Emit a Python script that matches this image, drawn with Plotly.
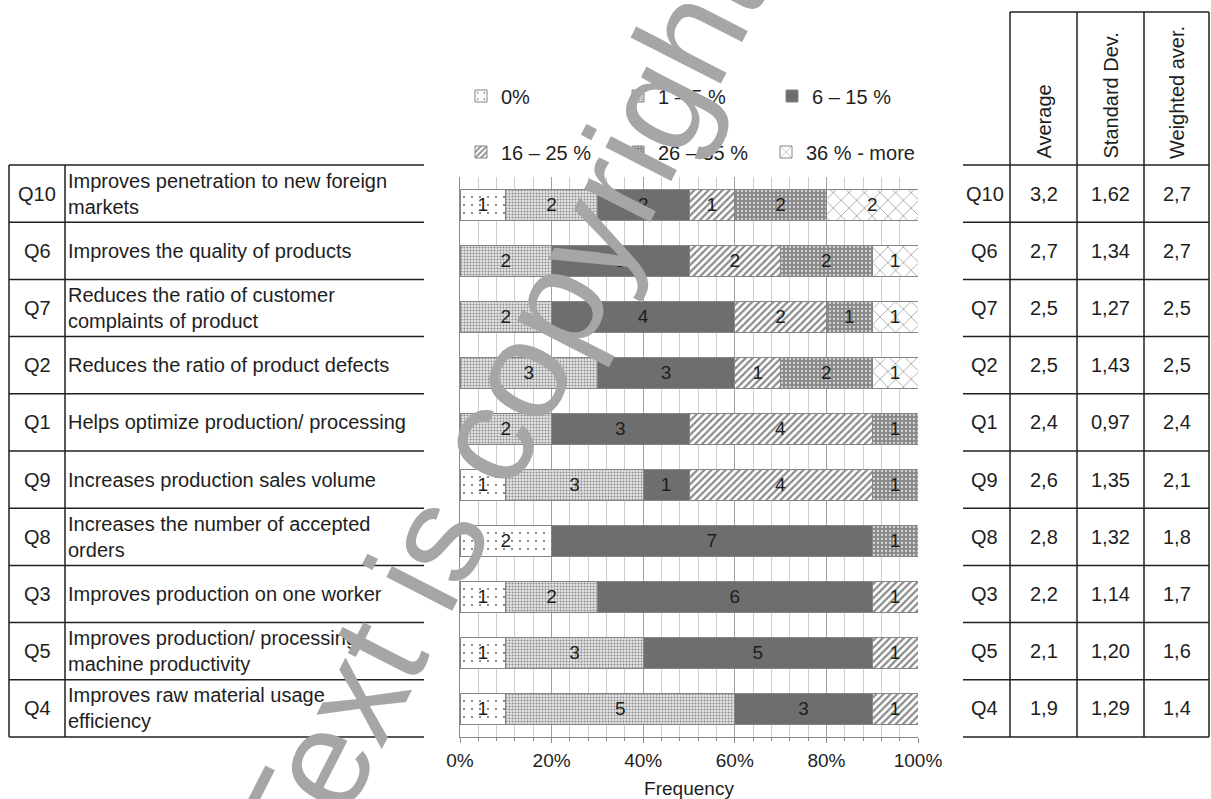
import plotly.graph_objects as go

W, H = 1211, 799

# ---- data -------------------------------------------------------------
questions = ["Q10", "Q6", "Q7", "Q2", "Q1", "Q9", "Q8", "Q3", "Q5", "Q4"]
descriptions = [
    "Improves penetration to new foreign<br>markets",
    "Improves the quality of products",
    "Reduces the ratio of customer<br>complaints of product",
    "Reduces the ratio of product defects",
    "Helps optimize production/ processing",
    "Increases production sales volume",
    "Increases the number of accepted<br>orders",
    "Improves production on one worker",
    "Improves production/ processing<br>machine productivity",
    "Improves raw material usage<br>efficiency",
]
categories = ["0%", "1 – 5 %", "6 – 15 %", "16 – 25 %", "26 – 35 %", "36 % - more"]
counts_0 = [1, 0, 0, 0, 0, 1, 2, 1, 1, 1]
counts_1_5 = [2, 2, 2, 3, 2, 3, 0, 2, 3, 5]
counts_6_15 = [2, 3, 4, 3, 3, 1, 7, 6, 5, 3]
counts_16_25 = [1, 2, 2, 1, 4, 4, 0, 1, 1, 1]
counts_26_35 = [2, 2, 1, 2, 1, 1, 1, 0, 0, 0]
counts_36_more = [2, 1, 1, 1, 0, 0, 0, 0, 0, 0]
average = [3.2, 2.7, 2.5, 2.5, 2.4, 2.6, 2.8, 2.2, 2.1, 1.9]
std_dev = [1.62, 1.34, 1.27, 1.43, 0.97, 1.35, 1.32, 1.14, 1.20, 1.29]
weighted_avg = [2.7, 2.7, 2.5, 2.5, 2.4, 2.1, 1.8, 1.7, 1.6, 1.4]
x_ticks = [0, 20, 40, 60, 80, 100]
x_tick_labels = [f"{v}%" for v in x_ticks]
stat_headers = ["Average", "Standard Dev.", "Weighted aver."]

series = [counts_0, counts_1_5, counts_6_15, counts_16_25, counts_26_35, counts_36_more]

# ---- styling ----------------------------------------------------------
FONT = "Liberation Sans, Arial, sans-serif"
TXT = "#1e1e1e"
patterns = [
    dict(shape=".", fgcolor="#6a6a6a", bgcolor="#ffffff", size=8, solidity=0.05, fillmode="replace"),
    dict(shape=".", fgcolor="#8a8a8a", bgcolor="#e4e4e4", size=3, solidity=0.35, fillmode="replace"),
    None,
    dict(shape="/", fgcolor="#8a8a8a", bgcolor="#ffffff", size=5, solidity=0.45, fillmode="replace"),
    dict(shape=".", fgcolor="#d6d6d6", bgcolor="#8a8a8a", size=4, solidity=0.25, fillmode="replace"),
    dict(shape="x", fgcolor="#8c8c8c", bgcolor="#ffffff", size=11, solidity=0.12, fillmode="replace"),
]
base_colors = ["#ffffff", "#bdbdbd", "#6e6e6e", "#ffffff", "#8a8a8a", "#ffffff"]

# legend positions (pixel coords of text start, row centre)
legend_pos = [(503, 96), (660, 96), (814, 96), (503, 152), (660, 152), (808, 152)]


def px(x):
    return x / W


def py(y):
    return 1 - y / H


fig = go.Figure()
for i, (name, vals) in enumerate(zip(categories, series)):
    marker = dict(color=base_colors[i], line=dict(color="#858585", width=1))
    if patterns[i] is not None:
        marker["pattern"] = patterns[i]
    lg = "legend" if i == 0 else f"legend{i + 1}"
    fig.add_trace(go.Bar(
        y=questions,
        x=[v if v else None for v in vals],
        orientation="h",
        name=name,
        marker=marker,
        text=[str(v) if v else "" for v in vals],
        texttemplate="%{text}",
        textposition="inside",
        insidetextanchor="middle",
        insidetextfont=dict(family=FONT, size=19, color=TXT),
        constraintext="none",
        hoverinfo="skip",
        legend=lg,
    ))

layout_legends = {}
for i, (tx, ty) in enumerate(legend_pos):
    key = "legend" if i == 0 else f"legend{i + 1}"
    layout_legends[key] = dict(
        x=px(tx - 42), y=py(ty), xanchor="left", yanchor="middle",
        orientation="h", bgcolor="rgba(0,0,0,0)", borderwidth=0,
        font=dict(family=FONT, size=20, color=TXT),
        itemclick=False, itemdoubleclick=False,
    )

PLOT_L, PLOT_R, PLOT_T, PLOT_B = 460, 918, 177, 736.5

fig.update_layout(
    width=W, height=H,
    margin=dict(l=0, r=0, t=0, b=0, autoexpand=False),
    paper_bgcolor="white", plot_bgcolor="white",
    barmode="stack", barnorm="percent", bargap=0.445,
    font=dict(family=FONT, size=19, color=TXT),
    showlegend=True,
    **layout_legends,
)
fig.update_xaxes(
    domain=[px(PLOT_L), px(PLOT_R)], range=[0, 100], automargin=False,
    tickmode="array", tickvals=x_ticks, ticktext=x_tick_labels,
    tickfont=dict(family=FONT, size=19, color=TXT), ticklabelstandoff=2,
    showgrid=True, gridcolor="#a0a0a0", gridwidth=1,
    showline=True, linecolor="#8c8c8c", linewidth=1,
    ticks="outside", ticklen=5, tickcolor="#8c8c8c",
    minor=dict(dtick=4, showgrid=True, gridcolor="#cdcdcd", gridwidth=1,
               ticks="outside", ticklen=3, tickcolor="#8c8c8c"),
    zeroline=False, fixedrange=True,
    title=dict(text="Frequency", font=dict(family=FONT, size=19, color=TXT), standoff=11),
)
fig.update_yaxes(
    domain=[py(PLOT_B), py(PLOT_T)], autorange="reversed", automargin=False,
    showticklabels=False, ticks="", showgrid=False,
    showline=True, linecolor="#8c8c8c", linewidth=1, fixedrange=True,
)

shapes = []
annotations = []
LINE = dict(color="#202020", width=1.5)

# ---- left table -------------------------------------------------------
ROW_T, ROW_H = 165, 57.2
n = len(questions)
T_L, T_QR, T_R = 9, 65, 424
for k in range(n + 1):
    yy = ROW_T + k * ROW_H
    shapes.append(dict(type="line", xref="paper", yref="paper", x0=px(T_L), x1=px(T_R),
                       y0=py(yy), y1=py(yy), line=LINE))
for xx in (T_L, T_QR):
    shapes.append(dict(type="line", xref="paper", yref="paper", x0=px(xx), x1=px(xx),
                       y0=py(ROW_T), y1=py(ROW_T + n * ROW_H), line=LINE))
for k, (q, d) in enumerate(zip(questions, descriptions)):
    yc = ROW_T + (k + 0.5) * ROW_H
    annotations.append(dict(x=px((T_L + T_QR) / 2), y=py(yc), xref="paper", yref="paper",
                            text=q, showarrow=False, xanchor="center", yanchor="middle",
                            font=dict(family=FONT, size=20, color=TXT)))
    annotations.append(dict(x=px(T_QR + 1), y=py(yc), xref="paper", yref="paper",
                            text=d, showarrow=False, xanchor="left", yanchor="middle", align="left",
                            font=dict(family=FONT, size=20, color=TXT)))

# ---- right table ------------------------------------------------------
R_L = 963
col_edges = [1010, 1077, 1144, 1209]
HEAD_T = 12
for k in range(n + 1):
    yy = ROW_T + k * ROW_H
    shapes.append(dict(type="line", xref="paper", yref="paper", x0=px(R_L), x1=px(col_edges[-1]),
                       y0=py(yy), y1=py(yy), line=LINE))
shapes.append(dict(type="line", xref="paper", yref="paper", x0=px(col_edges[0]), x1=px(col_edges[-1]),
                   y0=py(HEAD_T), y1=py(HEAD_T), line=LINE))
for xx in col_edges:
    shapes.append(dict(type="line", xref="paper", yref="paper", x0=px(xx), x1=px(xx),
                       y0=py(HEAD_T), y1=py(ROW_T + n * ROW_H), line=LINE))
for j, head in enumerate(stat_headers):
    xc = (col_edges[j] + col_edges[j + 1]) / 2
    annotations.append(dict(x=px(xc), y=py(ROW_T - 4), xref="paper", yref="paper",
                            text=head, showarrow=False, textangle=-90,
                            xanchor="center", yanchor="bottom",
                            font=dict(family=FONT, size=20, color=TXT)))
stat_cols = [
    [f"{v:.1f}".replace(".", ",") for v in average],
    [f"{v:.2f}".replace(".", ",") for v in std_dev],
    [f"{v:.1f}".replace(".", ",") for v in weighted_avg],
]
for k, q in enumerate(questions):
    yc = ROW_T + (k + 0.5) * ROW_H
    annotations.append(dict(x=px((R_L + col_edges[0]) / 2 - 2), y=py(yc), xref="paper", yref="paper",
                            text=q, showarrow=False, xanchor="center", yanchor="middle",
                            font=dict(family=FONT, size=20, color=TXT)))
    for j in range(3):
        xc = (col_edges[j] + col_edges[j + 1]) / 2
        annotations.append(dict(x=px(xc), y=py(yc), xref="paper", yref="paper",
                                text=stat_cols[j][k], showarrow=False,
                                xanchor="center", yanchor="middle",
                                font=dict(family=FONT, size=20, color=TXT)))

# ---- watermark --------------------------------------------------------
annotations.append(dict(x=px(498), y=py(413), xref="paper", yref="paper",
                        text="Text is copyright", showarrow=False, textangle=-63,
                        xanchor="center", yanchor="middle",
                        font=dict(family=FONT, size=140, color="#a6a6a6")))

fig.update_layout(shapes=shapes, annotations=annotations)
fig.write_html("out.html")
